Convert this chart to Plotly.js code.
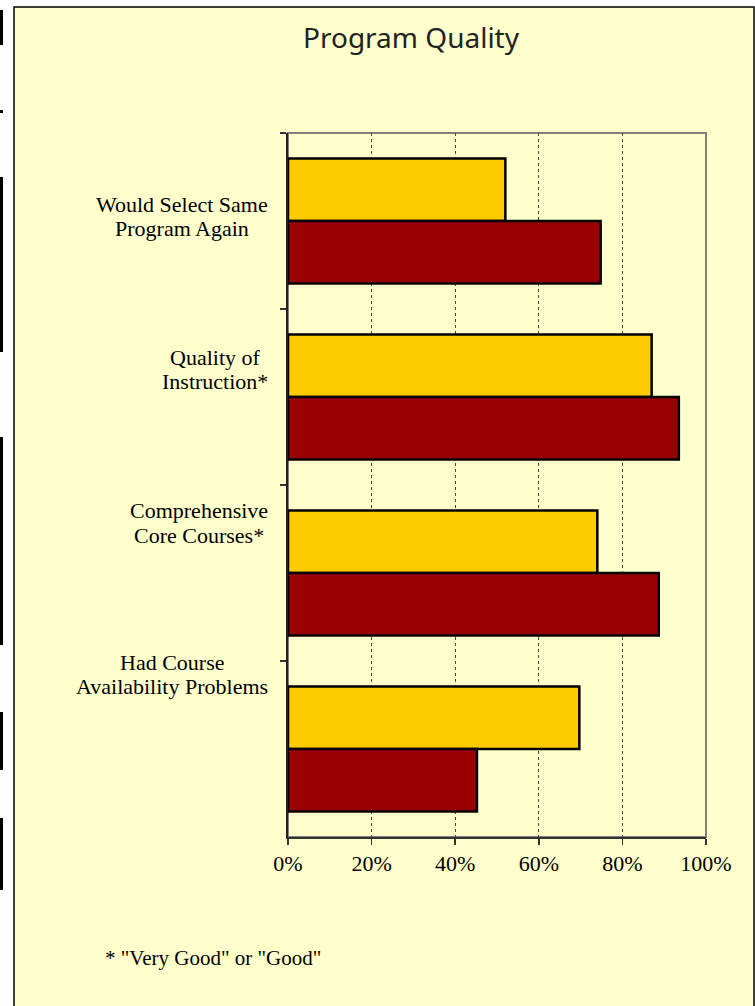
<!DOCTYPE html>
<html>
<head>
<meta charset="utf-8">
<script src="https://cdn.plot.ly/plotly-3.0.1.min.js"></script>
<style>
  html, body { margin: 0; padding: 0; background: #ffffff; }
  #chart { width: 755px; height: 1006px; }
</style>
</head>
<body>
<div id="chart"></div>
<script>
// ---- Data ----
var categories = [
  "Would Select Same Program Again",
  "Quality of Instruction*",
  "Comprehensive Core Courses*",
  "Had Course Availability Problems"
];
var labelLine1 = ["Would Select Same", "Quality of", "Comprehensive", "Had Course"];
var labelLine2 = ["Program Again", "Instruction*", "Core Courses*", "Availability Problems"];
var seriesYellow = [52, 87, 74, 69.7];
var seriesRed = [74.8, 93.5, 88.7, 45.2];
var xTickVals = [0, 20, 40, 60, 80, 100];
var xTickLabels = ["0%", "20%", "40%", "60%", "80%", "100%"];
var titleText = "Program Quality";
var footnoteText = '* "Very Good" or "Good"';

// ---- Layout geometry (pixels) ----
var W = 755, H = 1006;
var L = 288, R = 49, T = 133, B = 169;
var PW = W - L - R, PH = H - T - B;
function px(x) { return (x - L) / PW; }
function py(y) { return (H - B - y) / PH; }

// label line centres (pixels from top) for the first line of each category
var labelLine1Px = [204.5, 357.5, 511, 662.5];
var lineGap = 24;
var labelRightPx = 268;

var labelFont = { family: "Liberation Serif, Times New Roman, serif", size: 22, color: "#000000" };

var ctx = document.createElement("canvas").getContext("2d");
ctx.font = "22px 'Liberation Serif'";
function tw(s) { return ctx.measureText(s).width; }

var annotations = [];
for (var i = 0; i < categories.length; i++) {
  var w = Math.max(tw(labelLine1[i]), tw(labelLine2[i]));
  var cx = labelRightPx - w / 2;
  annotations.push({ xref: "paper", yref: "paper", x: px(cx), y: py(labelLine1Px[i]),
    xanchor: "center", yanchor: "middle", showarrow: false, text: labelLine1[i], font: labelFont });
  annotations.push({ xref: "paper", yref: "paper", x: px(cx), y: py(labelLine1Px[i] + lineGap),
    xanchor: "center", yanchor: "middle", showarrow: false, text: labelLine2[i], font: labelFont });
}
annotations.push({ xref: "paper", yref: "paper", x: px(103), y: py(958),
  xanchor: "left", yanchor: "middle", showarrow: false, text: footnoteText,
  font: { family: "Liberation Serif, Times New Roman, serif", size: 21, color: "#000000" } });

var shapes = [
  // panel
  { type: "rect", xref: "paper", yref: "paper", x0: px(14), x1: px(754), y0: py(1012), y1: py(7),
    fillcolor: "#FFFFCC", line: { color: "#000000", width: 1.5 }, layer: "below" },
  // plot-area frame (gray)
  { type: "rect", xref: "paper", yref: "paper", x0: 0, x1: 1, y0: 0, y1: 1,
    line: { color: "#808080", width: 2 }, layer: "below" }
];
// left-edge black strips
var strips = [[10, 45], [110, 113], [177, 352], [437, 645], [712, 770], [818, 890]];
strips.forEach(function (s) {
  shapes.push({ type: "rect", xref: "paper", yref: "paper", x0: px(0), x1: px(3), y0: py(s[1]), y1: py(s[0]),
    fillcolor: "#000000", line: { width: 0 }, layer: "above" });
});

var traces = [
  { type: "bar", orientation: "h", y: categories, x: seriesYellow, name: "Series 1",
    marker: { color: "#FFCC00", line: { color: "#000000", width: 2.5 } }, hoverinfo: "x+y" },
  { type: "bar", orientation: "h", y: categories, x: seriesRed, name: "Series 2",
    marker: { color: "#990000", line: { color: "#000000", width: 2.5 } }, hoverinfo: "x+y" }
];

var layout = {
  width: W, height: H,
  margin: { l: L, r: R, t: T, b: B },
  paper_bgcolor: "#FFFFFF",
  plot_bgcolor: "rgba(0,0,0,0)",
  showlegend: false,
  barmode: "group",
  bargap: 0.29,
  bargroupgap: 0,
  title: { text: titleText, x: 411 / W, xref: "container", xanchor: "center",
    y: 1 - 38 / H, yref: "container", yanchor: "middle",
    font: { family: "Noto Sans, Open Sans, sans-serif", size: 28, color: "#222222" } },
  xaxis: {
    range: [0, 100], tickmode: "array", tickvals: xTickVals, ticktext: xTickLabels,
    showgrid: true, gridcolor: "#444444", griddash: "dot", gridwidth: 1,
    zeroline: false, showline: true, linecolor: "#333333", linewidth: 1.5,
    ticks: "outside", ticklen: 6, tickcolor: "#333333", tickwidth: 1.5,
    tickfont: { family: "Liberation Serif, Times New Roman, serif", size: 22, color: "#000000" },
    fixedrange: true
  },
  yaxis: {
    type: "category", categoryorder: "array", categoryarray: categories,
    range: [3.5, -0.5],
    showticklabels: false, showgrid: false, zeroline: false,
    showline: true, linecolor: "#222222", linewidth: 2,
    ticks: "outside", tickson: "boundaries", ticklen: 6, tickcolor: "#333333", tickwidth: 1.5,
    fixedrange: true
  },
  shapes: shapes,
  annotations: annotations
};

Plotly.newPlot("chart", traces, layout, { displayModeBar: false, staticPlot: true });
</script>
</body>
</html>
